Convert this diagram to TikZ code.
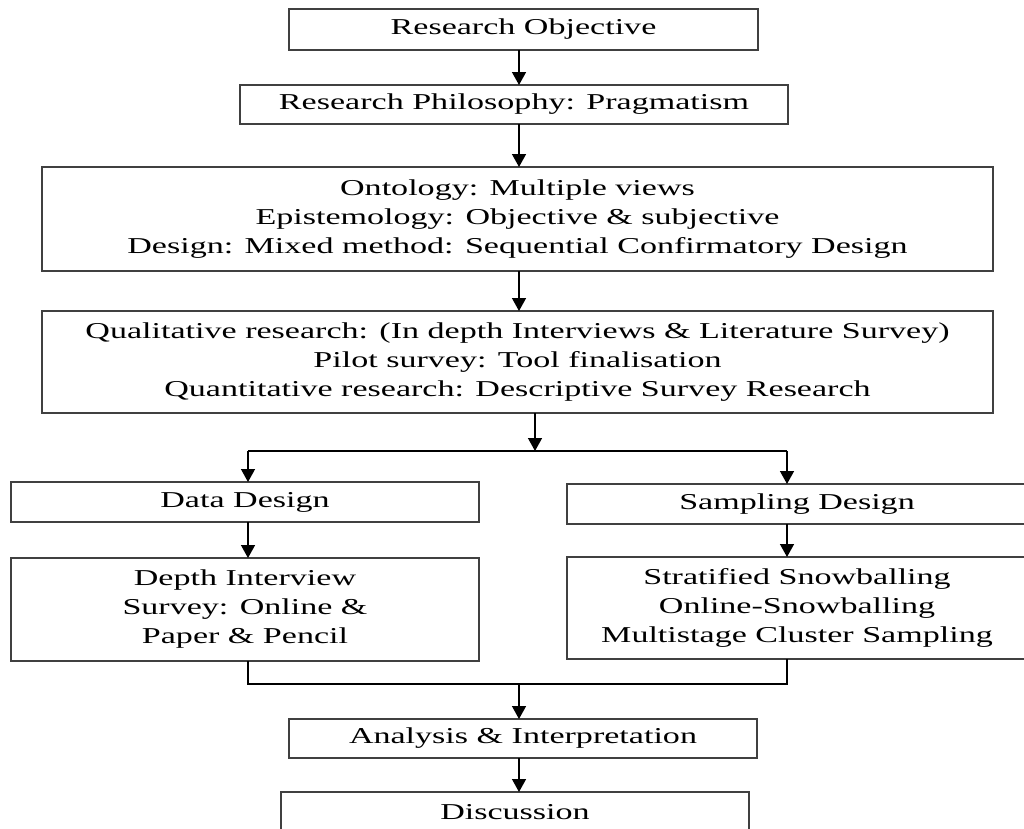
\documentclass[tikz,border=0pt]{standalone}
\usepackage{fontspec}
\setmainfont{Liberation Serif}[FakeStretch=1.5]
\usepackage{tikz}
\usetikzlibrary{arrows.meta}
\tikzset{
>={Triangle[width=14pt,length=13pt]}, % filled arrow heads
box/.style={draw=black!75, line width=1.6pt, inner sep=0pt, outer sep=0pt, align=center, font=\fontsize{22.7}{29}\selectfont}, % every frame
link/.style={line width=1.4pt, black}, % the connecting lines
}

\begin{document}
\begin{tikzpicture}[x=1pt, y=-1pt]
        \useasboundingbox (0,0) rectangle (1024,828);
        \node[box, minimum width=469pt, minimum height=41pt] at (523.5,29.5) (obj) {Research Objective};
        \node[box, minimum width=548pt, minimum height=39pt] at (514,104.5) (phil) {Research Philosophy: Pragmatism};
        \node[box, minimum width=951pt, minimum height=104pt] at (517.5,219) (onto) {Ontology: Multiple views\\ Epistemology: Objective \& subjective\\ Design: Mixed method: Sequential Confirmatory Design};
        \node[box, minimum width=951pt, minimum height=102pt] at (517.5,362) (qual) {Qualitative research: (In depth Interviews \& Literature Survey)\\ Pilot survey: Tool finalisation\\ Quantitative research: Descriptive Survey Research};
        \node[box, minimum width=468pt, minimum height=40pt] at (245,502) (data) {Data Design};
        \node[box, minimum width=460pt, minimum height=40pt] at (797,504) (samp) {Sampling Design};
        \node[box, minimum width=468pt, minimum height=103pt] at (245,609.5) (depth) {Depth Interview\\ Survey: Online \&\\ Paper \& Pencil};
        \node[box, minimum width=460pt, minimum height=102pt] at (797,608) (strat) {Stratified Snowballing\\ Online-Snowballing\\ Multistage Cluster Sampling};
        \node[box, minimum width=468pt, minimum height=39pt] at (523,738.5) (anal) {Analysis \& Interpretation};
        \node[box, minimum width=468pt, minimum height=40pt] at (515,812) (disc) {Discussion};
        % \coordinate (mid) at (517.5,0);
        \coordinate (mid) at (519,0);
        \coordinate (split) at (535,451);
        \coordinate (splitL) at (248,451);
        \coordinate (splitR) at (787,451);
        \coordinate (joinL) at (248,684);
        \coordinate (joinR) at (787,684);
        \coordinate (join) at (519,684);
        \draw[link]
        (obj.south -| mid) edge[->] (phil.north -| mid)
        (phil.south -| mid) edge[->] (onto.north -| mid)
        (onto.south -| mid) edge[->] (qual.north -| mid)
        (qual.south -| split) edge[->] (split)
        (splitL) -- (splitR)
        (splitL) edge[->] (data.north -| splitL)
        (splitR) edge[->] (samp.north -| splitR)
        (data.south -| splitL) edge[->] (depth.north -| splitL)
        (samp.south -| splitR) edge[->] (strat.north -| splitR)
        (depth.south -| joinL) -- (joinL) -- (joinR) -- (strat.south -| joinR)
        (join) edge[->] (anal.north -| join)
        (anal.south -| mid) edge[->] (disc.north -| mid)
        ;
    \end{tikzpicture}
\end{document}
